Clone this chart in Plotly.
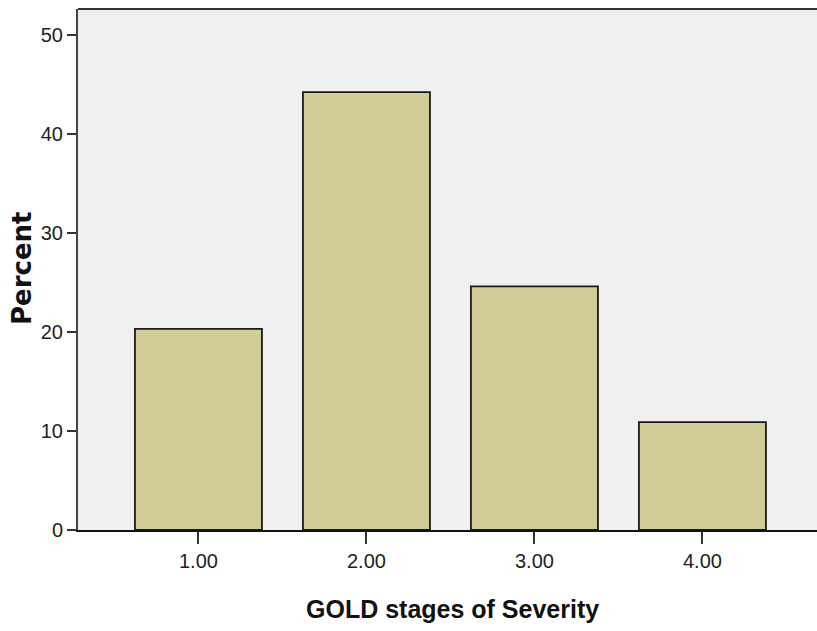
import plotly.graph_objects as go

categories = [1, 2, 3, 4]
tick_labels = ["1.00", "2.00", "3.00", "4.00"]
percent = [20.3, 44.2, 24.6, 10.9]
y_ticks = [0, 10, 20, 30, 40, 50]

NARROW = "Liberation Sans Narrow, Liberation Sans, Arial, sans-serif"

fig = go.Figure()
fig.add_trace(go.Bar(
    x=categories, y=percent, width=0.756,
    marker=dict(color="#D2CD96", line=dict(color="#1a1a1a", width=1.8)),
))

fig.update_layout(
    width=817, height=631,
    margin=dict(l=78, r=0, t=9, b=101),
    paper_bgcolor="white", plot_bgcolor="#F0F0F0",
    showlegend=False,
    xaxis=dict(
        range=[0.283, 4.682], tickvals=categories, ticktext=tick_labels,
        showgrid=False, zeroline=False, showline=True, linecolor="#111", linewidth=2,
        ticks="outside", ticklen=12, tickwidth=2, tickcolor="#333",
        tickfont=dict(family=NARROW, size=20, color="#222"),
    ),
    yaxis=dict(
        range=[0, 52.6], tickvals=y_ticks,
        showgrid=False, zeroline=False, showline=True, linecolor="#444", linewidth=2,
        ticks="outside", ticklen=9, tickwidth=2, tickcolor="#333",
        tickfont=dict(family=NARROW, size=20, color="#222"),
    ),
    annotations=[
        dict(text="<b>GOLD stages of Severity</b>", xref="paper", yref="paper",
             x=(452 - 78) / 739, y=-79 / 521, xanchor="center", yanchor="middle", showarrow=False,
             font=dict(family=NARROW, size=25, color="#111")),
        dict(text="<b>Percent</b>", xref="paper", yref="paper", textangle=-90,
             x=-56 / 739, y=(530 - 268) / 521, xanchor="center", yanchor="middle", showarrow=False,
             font=dict(family="DejaVu Sans", size=26, color="#111")),
    ],
    shapes=[dict(type="line", xref="paper", yref="paper", x0=0, x1=1, y0=1, y1=1,
                 line=dict(color="#333", width=2))],
)

fig.write_html(
    "out.html",
    config={"displayModeBar": False},
    post_script="document.body.style.margin='0';document.body.style.overflow='hidden';"
                "Plotly.relayout(document.getElementById('{plot_id}'), {width: 817, height: 631});",
)
